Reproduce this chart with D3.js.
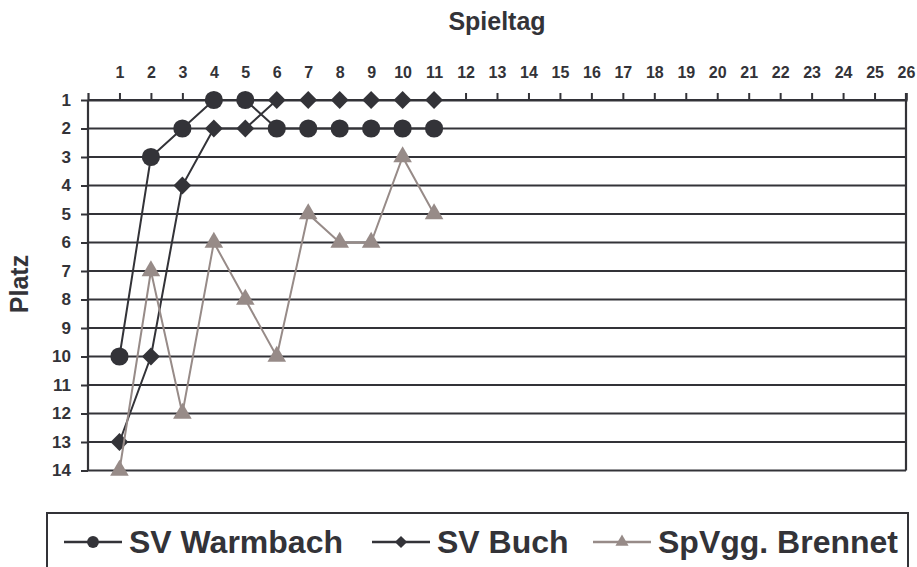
<!DOCTYPE html>
<html>
<head>
<meta charset="utf-8">
<script src="https://cdn.jsdelivr.net/npm/d3@7"></script>
<style>
  html, body { margin: 0; padding: 0; background: #fff; }
  svg { display: block; font-family: "Liberation Sans", Arial, sans-serif; }
</style>
</head>
<body>
<svg id="chart" width="917" height="567"></svg>
<script>
const spieltage = d3.range(1, 27);          // x tick labels 1..26
const plaetze = d3.range(1, 15);            // y tick labels 1..14
const seriesNames = ["SV Warmbach", "SV Buch", "SpVgg. Brennet"];
const warmbach = [10, 3, 2, 1, 1, 2, 2, 2, 2, 2, 2];
const buch     = [13, 10, 4, 2, 2, 1, 1, 1, 1, 1, 1];
const brennet  = [14, 7, 12, 6, 8, 10, 5, 6, 6, 3, 5];

const dark = "#333338";
const taupe = "#978b88";
const series = [
  { name: seriesNames[0], values: warmbach, color: dark, symbol: d3.symbolCircle, size: 260, lsize: 110, rot: 0 },
  { name: seriesNames[1], values: buch, color: dark, symbol: d3.symbolSquare, size: 160, lsize: 75, rot: 45 },
  { name: seriesNames[2], values: brennet, color: taupe, symbol: d3.symbolTriangle, size: 150, lsize: 75, rot: 0 }
];

const svg = d3.select("#chart");
const x = d3.scaleLinear().domain([0, 26]).range([88, 906]);
const y = d3.scaleLinear().domain([1, 14]).range([100, 470.5]);

// gridlines
svg.append("g").selectAll("line").data(plaetze).join("line")
  .attr("x1", x(0)).attr("x2", x(26))
  .attr("y1", d => y(d)).attr("y2", d => y(d))
  .attr("stroke", dark).attr("stroke-width", 2.2);

// frame verticals
svg.append("line").attr("x1", x(0)).attr("x2", x(0)).attr("y1", y(1)).attr("y2", y(14))
  .attr("stroke", dark).attr("stroke-width", 2.2);
svg.append("line").attr("x1", x(26)).attr("x2", x(26)).attr("y1", y(1) - 7).attr("y2", y(14))
  .attr("stroke", dark).attr("stroke-width", 2.2);

// top axis
const xAxis = svg.append("g").attr("transform", `translate(0,${y(1)})`)
  .call(d3.axisTop(x).tickValues(spieltage).tickSize(7).tickPadding(15).tickFormat(d3.format("d")));
xAxis.attr("font-size", null).attr("font-family", null);
xAxis.select(".domain").attr("stroke", dark).attr("stroke-width", 2.2);
xAxis.selectAll(".tick line").attr("stroke", dark).attr("stroke-width", 2);
xAxis.selectAll(".tick text").attr("fill", dark)
  .style("font-size", "16px").style("font-weight", "bold").style("font-family", "'Liberation Sans', Arial, sans-serif");

// left axis
const yAxis = svg.append("g").attr("transform", `translate(${x(0)},0)`)
  .call(d3.axisLeft(y).tickValues(plaetze).tickSize(7).tickPadding(10).tickFormat(d3.format("d")));
yAxis.attr("font-size", null).attr("font-family", null);
yAxis.select(".domain").remove();
yAxis.selectAll(".tick line").attr("stroke", dark).attr("stroke-width", 2);
yAxis.selectAll(".tick text").attr("fill", dark)
  .style("font-size", "17px").style("font-weight", "bold").style("font-family", "'Liberation Sans', Arial, sans-serif");

// series lines and markers
const line = d3.line().x((d, i) => x(i + 1)).y(d => y(d));
series.forEach(s => {
  svg.append("path").datum(s.values).attr("d", line)
    .attr("fill", "none").attr("stroke", s.color).attr("stroke-width", 2);
  svg.append("g").selectAll("path").data(s.values).join("path")
    .attr("transform", (d, i) => `translate(${x(i + 1)},${y(d)}) rotate(${s.rot})`)
    .attr("d", d3.symbol().type(s.symbol).size(s.size)())
    .attr("fill", s.color);
});

// titles
svg.append("text").attr("x", 497).attr("y", 30).attr("text-anchor", "middle")
  .attr("font-size", 25).attr("font-weight", "bold").attr("fill", dark).text("Spieltag");
svg.append("text").attr("transform", "translate(28,284) rotate(-90)").attr("text-anchor", "middle")
  .attr("font-size", 25).attr("font-weight", "bold").attr("fill", dark).text("Platz");

// legend
svg.append("rect").attr("x", 47).attr("y", 513).attr("width", 861).attr("height", 80)
  .attr("fill", "none").attr("stroke", dark).attr("stroke-width", 2);
const legendX = [64, 372, 593];
const lg = svg.append("g").selectAll("g").data(series).join("g")
  .attr("transform", (d, i) => `translate(${legendX[i]},542)`);
lg.append("line").attr("x1", 0).attr("x2", 58).attr("stroke", d => d.color).attr("stroke-width", 2.5);
lg.append("path").attr("transform", d => `translate(29,0) rotate(${d.rot})`)
  .attr("d", d => d3.symbol().type(d.symbol).size(d.lsize)()).attr("fill", d => d.color);
lg.append("text").attr("x", 65).attr("y", 11).attr("font-size", 32).attr("font-weight", "bold")
  .attr("fill", dark).text(d => d.name);
</script>
</body>
</html>
